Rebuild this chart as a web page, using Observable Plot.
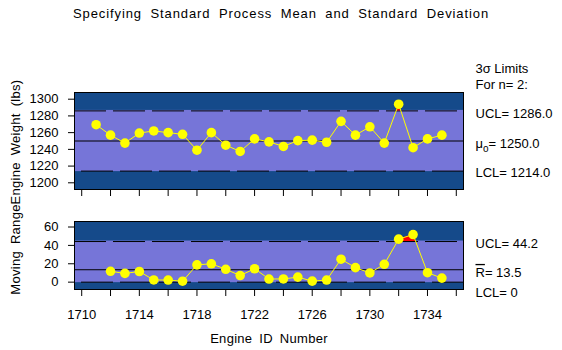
<!DOCTYPE html>
<html>
<head>
<meta charset="utf-8">
<script src="https://cdn.jsdelivr.net/npm/d3@7"></script>
<script src="https://cdn.jsdelivr.net/npm/@observablehq/plot@0.6"></script>
<style>
  html, body { margin: 0; padding: 0; background: #fff; }
  body { width: 562px; height: 350px; overflow: hidden; font-family: "Liberation Sans", Arial, sans-serif; }
  #title { height: 30px; box-sizing: border-box; padding-top: 7px; font-size: 13px; line-height: 13px;
           text-align: center; letter-spacing: 0.9px; word-spacing: 4px; }
  svg { display: block; }
</style>
</head>
<body>
<div id="title">Specifying Standard Process Mean and Standard Deviation</div>
<div id="chart"></div>
<script>
// ---- data ----
const engines = [1711, 1712, 1713, 1714, 1715, 1716, 1717, 1718, 1719, 1720, 1721, 1722, 1723,
                 1724, 1725, 1726, 1727, 1728, 1729, 1730, 1731, 1732, 1733, 1734, 1735];
const weights = [1269.5, 1257, 1247.5, 1259.5, 1262, 1260, 1258, 1239, 1260, 1245, 1237.5, 1252.5, 1249,
                 1243.5, 1250.5, 1251, 1248.5, 1273.5, 1257, 1267, 1247.5, 1294, 1242, 1252.5, 1257];
const rangeEngines = engines.slice(1);
const movingRanges = [11.8, 9.5, 11.6, 2.4, 2.3, 1, 18.8, 20, 14, 7.2, 14.6, 3.4,
                      3.5, 5.5, 1.1, 2.3, 25, 15.8, 10, 19.4, 46.8, 51.8, 10.3, 4.4];
const meanLimits = {lcl: 1214.0, center: 1250.0, ucl: 1286.0};
const rangeLimits = {lcl: 0, center: 13.5, ucl: 44.2};
const meanTicks = [1200, 1220, 1240, 1260, 1280, 1300];
const rangeTicks = [0, 20, 40, 60];
const xTicks = d3.range(1710, 1737, 2);
const xLabelTicks = [1710, 1714, 1718, 1722, 1726, 1730, 1734];
const limitsTitle = ["3σ Limits", "For n= 2:"];
const meanLabels = ["UCL= 1286.0", "μo= 1250.0", "LCL= 1214.0"];
const rangeLabels = ["UCL= 44.2", "R= 13.5", "LCL= 0"];

// ---- style ----
const DARK = "#154a8a";
const MID = "#7675d8";
const YELLOW = "#ffff00";
const FONT = "'Liberation Sans', Arial, sans-serif";
const W = 562, ML = 74, MR = 99;

// red fill where a series exceeds the upper limit (crossings computed geometrically)
function exceedArea(xs, vs, lim) {
  const out = [];
  for (let i = 0; i < xs.length; i++) {
    out.push({x: xs[i], y: Math.max(vs[i], lim)});
    if (i < xs.length - 1 && (vs[i] - lim) * (vs[i + 1] - lim) < 0) {
      const t = (lim - vs[i]) / (vs[i + 1] - vs[i]);
      out.push({x: xs[i] + t * (xs[i + 1] - xs[i]), y: lim});
    }
  }
  return out;
}

function rightText(txt, yv, dy) {
  return Plot.text([txt], {text: d => d, y: yv, frameAnchor: "right", dx: 12, dy,
    textAnchor: "start", lineAnchor: "middle", fontSize: 13});
}

function panel({xs, vs, lim, yDomain, yTicks, height, marginTop, marginBottom, yLabel, yLabelDy, labels, labelDys, showX, extra}) {
  const pts = xs.map((x, i) => ({x, v: vs[i]}));
  const marks = [
    Plot.frame({fill: DARK}),
    Plot.rectY([lim], {y1: d => d.lcl, y2: d => d.ucl, fill: MID, insetTop: -0.5, insetBottom: -0.5}),
    Plot.ruleY([lim.ucl], {stroke: "black", strokeWidth: 1, strokeDasharray: "32,7"}),
    Plot.ruleY([lim.lcl], {stroke: "black", strokeWidth: 1, strokeDasharray: "32,7", strokeDashoffset: 32}),
    Plot.ruleY([lim.center], {stroke: "black", strokeWidth: 1}),
    Plot.areaY(exceedArea(xs, vs, lim.ucl), {x: "x", y1: lim.ucl, y2: "y", fill: "#ff0000"}),
    Plot.line(pts, {x: "x", y: "v", stroke: YELLOW, strokeWidth: 1}),
    Plot.dot(pts, {x: "x", y: "v", r: 4.8, fill: YELLOW, stroke: "none"}),
    Plot.frame({stroke: "black", strokeWidth: 1}),
    Plot.axisY({ticks: yTicks, tickSize: 6, tickPadding: 10, label: null, fontSize: 13, tickFormat: d => String(d)}),
    Plot.axisX({ticks: xTicks, tickSize: 7, tickPadding: 13, label: null, fontSize: 13,
                tickFormat: d => (showX && xLabelTicks.includes(d)) ? String(d) : ""}),
    Plot.text([yLabel], {text: d => d, frameAnchor: "left", rotate: -90, dx: -59, dy: yLabelDy,
                         textAnchor: "middle", lineAnchor: "middle", fontSize: 13}),
    rightText(labels[0], lim.ucl, labelDys[0]),
    rightText(labels[1], lim.center, labelDys[1]),
    rightText(labels[2], lim.lcl, labelDys[2]),
    ...extra
  ];
  return Plot.plot({
    width: W, height, marginLeft: ML, marginRight: MR, marginTop, marginBottom,
    x: {domain: [1709.5, 1736.5]},
    y: {domain: yDomain},
    style: {fontFamily: FONT, fontSize: "13px", background: "white", overflow: "visible"},
    marks
  });
}

const svgTop = panel({xs: engines, vs: weights, lim: meanLimits, yDomain: [1192, 1308], yTicks: meanTicks,
  height: 170, marginTop: 62, marginBottom: 11, yLabel: "Engine Weight (lbs)", yLabelDy: 1,
  labels: meanLabels, labelDys: [2.7, 2.7, 1.7], showX: false,
  extra: [
    Plot.text([limitsTitle[0]], {text: d => d, frameAnchor: "top-right", dx: 12, dy: -24, textAnchor: "start", lineAnchor: "middle", fontSize: 13}),
    Plot.text([limitsTitle[1]], {text: d => d, frameAnchor: "top-right", dx: 12, dy: -8, textAnchor: "start", lineAnchor: "middle", fontSize: 13})
  ]});

const svgBot = panel({xs: rangeEngines, vs: movingRanges, lim: rangeLimits, yDomain: [-8, 66], yTicks: rangeTicks,
  height: 150, marginTop: 21, marginBottom: 61, yLabel: "Moving Range", yLabelDy: -6,
  labels: rangeLabels, labelDys: [2, 3, 11], showX: true,
  extra: [
    Plot.text(["Engine ID Number"], {text: d => d, frameAnchor: "bottom", dy: 49, textAnchor: "middle", lineAnchor: "middle", fontSize: 13})
  ]});

document.getElementById("chart").append(svgTop, svgBot);

// subscript "o" in μo and overline on R
d3.selectAll("svg text").each(function () {
  const t = this.textContent;
  if (t === meanLabels[1]) {
    const s = d3.select(this); s.text(null);
    s.append("tspan").text("μ");
    s.append("tspan").attr("dy", 4).attr("font-size", 10).text("o");
    s.append("tspan").attr("dy", -4).text("= 1250.0");
  } else if (t === rangeLabels[1]) {
    const s = d3.select(this); s.text(null);
    s.append("tspan").style("text-decoration", "overline").text("R");
    s.append("tspan").text("= 13.5");
  } else if (t === "Engine ID Number" || t === "Engine Weight (lbs)" || t === "Moving Range") {
    d3.select(this).style("word-spacing", "3px").style("letter-spacing", "0.3px");
  }
});
</script>
</body>
</html>
